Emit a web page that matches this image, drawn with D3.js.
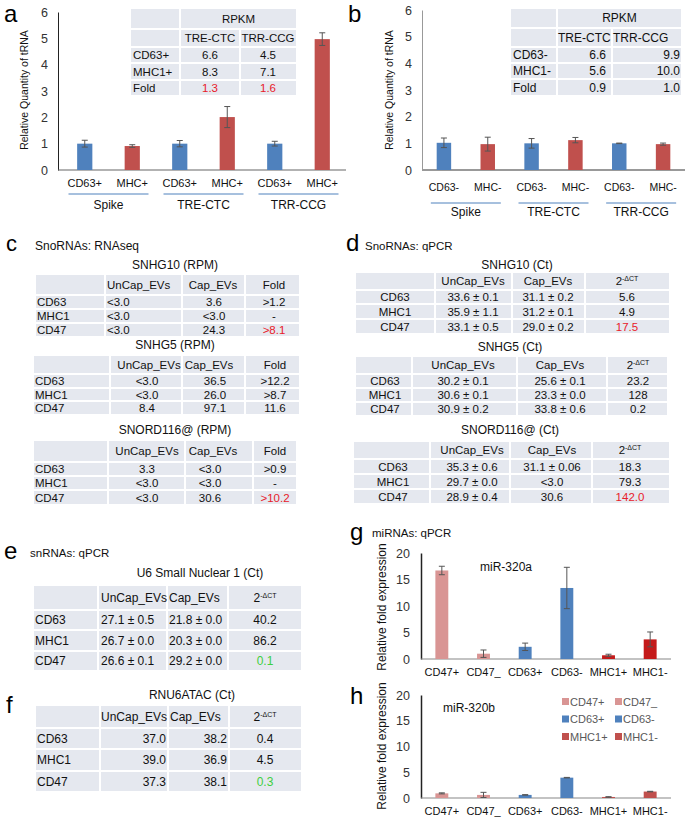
<!DOCTYPE html>
<html>
<head>
<meta charset="utf-8">
<script src="https://cdn.jsdelivr.net/npm/d3@7"></script>
<style>
body { margin: 0; background: #fff; }
svg { font-family: "Liberation Sans", Arial, sans-serif; }
</style>
</head>
<body>
<svg id="fig" width="685" height="820"></svg>
<script>
// ---- panel a / b : tRNA bars
var aCats = ["CD63+", "MHC+", "CD63+", "MHC+", "CD63+", "MHC+"];
var bCats = ["CD63-", "MHC-", "CD63-", "MHC-", "CD63-", "MHC-"];
var groups = ["Spike", "TRE-CTC", "TRR-CCG"];
var aVals = [1.0, 0.91, 1.0, 2.01, 1.0, 4.97];
var aErr = [0.13, 0.05, 0.12, 0.4, 0.09, 0.24];
var bVals = [1.02, 0.97, 1.0, 1.12, 1.0, 0.97];
var bErr = [0.18, 0.26, 0.18, 0.1, 0.01, 0.04];
var yTicksAB = [0, 1, 2, 3, 4, 5, 6];

// inset tables (RPKM)
var rpkmCols = ["TRE-CTC", "TRR-CCG"];
var aTabRows = ["CD63+", "MHC1+", "Fold"];
var aTabVals = [["6.6", "4.5"], ["8.3", "7.1"], ["1.3", "1.6"]];
var bTabRows = ["CD63-", "MHC1-", "Fold"];
var bTabVals = [["6.6", "9.9"], ["5.6", "10.0"], ["0.9", "1.0"]];

// ---- panel c : snoRNA RNAseq
var evCols = ["UnCap_EVs", "Cap_EVs"];
var evRows = ["CD63", "MHC1", "CD47"];
var c1Vals = [["<3.0", "3.6", ">1.2"], ["<3.0", "<3.0", "-"], ["<3.0", "24.3", ">8.1"]];
var c2Vals = [["<3.0", "36.5", ">12.2"], ["<3.0", "26.0", ">8.7"], ["8.4", "97.1", "11.6"]];
var c3Vals = [["3.3", "<3.0", ">0.9"], ["<3.0", "<3.0", "-"], ["<3.0", "30.6", ">10.2"]];

// ---- panel d : snoRNA qPCR
var d1Vals = [["33.6 ± 0.1", "31.1 ± 0.2", "5.6"], ["35.9 ± 1.1", "31.2 ± 0.1", "4.9"], ["33.1 ± 0.5", "29.0 ± 0.2", "17.5"]];
var d2Vals = [["30.2 ± 0.1", "25.6 ± 0.1", "23.2"], ["30.6 ± 0.1", "23.3 ± 0.0", "128"], ["30.9 ± 0.2", "33.8 ± 0.6", "0.2"]];
var d3Vals = [["35.3 ± 0.6", "31.1 ± 0.06", "18.3"], ["29.7 ± 0.0", "<3.0", "79.3"], ["28.9 ± 0.4", "30.6", "142.0"]];

// ---- panel e / f : snRNA qPCR
var eVals = [["27.1 ± 0.5", "21.8 ± 0.0", "40.2"], ["26.7 ± 0.0", "20.3 ± 0.0", "86.2"], ["26.6 ± 0.1", "29.2 ± 0.0", "0.1"]];
var fVals = [["37.0", "38.2", "0.4"], ["39.0", "36.9", "4.5"], ["37.3", "38.1", "0.3"]];

// ---- panel g / h : miRNA qPCR
var mirCats = ["CD47+", "CD47_", "CD63+", "CD63-", "MHC1+", "MHC1-"];
var gVals = [16.7, 1.0, 2.3, 13.4, 0.7, 3.7];
var gErr = [0.8, 0.7, 0.7, 3.9, 0.2, 1.4];
var hVals = [0.9, 0.6, 0.6, 3.95, 0.2, 1.25];
var hErr = [0.1, 0.5, 0.05, 0.05, 0.05, 0.05];
var yTicksGH = [0, 5, 10, 15, 20];

var BLUE = "#4f81bd", RED = "#c0504d", PINK = "#d99594", DRED = "#c41a1a";
var HIRED = "#e8202a", HIGREEN = "#3fcf3f";
var CELL = "#e5e8ef";
var DCT = "2-ΔCT";

var svg = d3.select("#fig");

function label(x, y, t, size) {
    svg.append("text").attr("x", x).attr("y", y).attr("font-size", size || 24)
        .attr("fill", "#000").text(t);
}
function note(x, y, t, anchor, size) {
    return svg.append("text").attr("x", x).attr("y", y).attr("font-size", size || 12)
        .attr("text-anchor", anchor || "start").attr("fill", "#111").text(t);
}

// generic table: cells[r][c], null = merged with left cell
function drawTable(spec) {
    var g = svg.append("g");
    spec.cells.forEach(function (row, r) {
        row.forEach(function (v, c) {
            if (v === null) return;
            var c2 = c + 1;
            while (c2 < row.length && row[c2] === null) c2++;
            var x0 = spec.xs[c], x1 = spec.xs[c2];
            var y0 = spec.ys[r], y1 = spec.ys[r + 1];
            g.append("rect").attr("x", x0 + 1).attr("y", y0 + 1)
                .attr("width", x1 - x0 - 2).attr("height", y1 - y0 - 2)
                .attr("fill", CELL);
            if (v === "") return;
            var al = (r < spec.nHead ? spec.head : spec.body)[c];
            var tx = al[1], anchor = al[0];
            if (c2 - c > 1) { tx = (x0 + x1) / 2; anchor = "middle"; }
            var t = g.append("text").attr("x", tx).attr("y", (y0 + y1) / 2)
                .attr("dy", "0.36em").attr("font-size", spec.size || 11.5)
                .attr("text-anchor", anchor)
                .attr("fill", (spec.hi && spec.hi[r + "," + c]) || "#111");
            if (v === DCT) {
                t.append("tspan").text("2");
                t.append("tspan").attr("font-size", 7).attr("dy", -4).text("-ΔCT");
            } else {
                t.text(v);
            }
        });
    });
}

function evCells(vals, head) {
    var cells = [[""].concat(head)];
    evRows.forEach(function (r, i) { cells.push([r].concat(vals[i])); });
    return cells;
}
function rpkmCells(rows, vals) {
    var cells = [["", "RPKM", null], [""].concat(rpkmCols)];
    rows.forEach(function (r, i) { cells.push([r].concat(vals[i])); });
    return cells;
}

// bar chart with error bars
function barChart(o) {
    var x = d3.scaleBand().domain(d3.range(o.cats.length)).range(o.xr)
        .paddingInner(o.pad).paddingOuter(o.pad / 2);
    var y = d3.scaleLinear().domain([0, o.ymax]).range(o.yr);
    var g = svg.append("g");

    g.append("g").attr("transform", "translate(" + o.axisX + ",0)")
        .call(d3.axisLeft(y).tickValues(o.ticks).tickFormat(d3.format("d"))
            .tickSize(0).tickPadding(o.tp))
        .call(function (s) {
            s.select(".domain").attr("stroke", o.yAxisColor).attr("stroke-width", o.yAxisW);
            s.selectAll("text").attr("font-size", o.tickSize).attr("fill", "#333")
                .attr("font-family", "Liberation Sans, Arial, sans-serif");
        });

    g.append("line").attr("x1", o.axisX).attr("x2", o.xr[1])
        .attr("y1", y(0)).attr("y2", y(0))
        .attr("stroke", o.xAxisColor).attr("stroke-width", o.xAxisW);

    g.append("g").attr("transform", "translate(0," + y(0) + ")")
        .call(d3.axisBottom(x).tickSize(0).tickPadding(o.lp).tickFormat(function (i) { return o.cats[i]; }))
        .call(function (s) {
            s.select(".domain").remove();
            s.selectAll("text").attr("font-size", o.labSize).attr("fill", "#111")
                .attr("font-family", "Liberation Sans, Arial, sans-serif");
        });

    g.selectAll("rect.bar").data(o.vals).enter().append("rect")
        .attr("class", "bar")
        .attr("x", function (d, i) { return x(i); })
        .attr("y", function (d) { return y(d); })
        .attr("width", x.bandwidth())
        .attr("height", function (d) { return y(0) - y(d); })
        .attr("fill", function (d, i) { return o.colors[i]; });

    var eb = g.selectAll("g.err").data(o.vals).enter().append("g").attr("class", "err")
        .attr("stroke", "#555").attr("stroke-width", 1);
    eb.each(function (d, i) {
        var cx = x(i) + x.bandwidth() / 2, e = o.err[i], s = d3.select(this);
        s.append("line").attr("x1", cx).attr("x2", cx).attr("y1", y(d - e)).attr("y2", y(d + e));
        s.append("line").attr("x1", cx - 3).attr("x2", cx + 3).attr("y1", y(d + e)).attr("y2", y(d + e));
        s.append("line").attr("x1", cx - 3).attr("x2", cx + 3).attr("y1", y(d - e)).attr("y2", y(d - e));
    });

    if (o.ylab) {
        svg.append("text")
            .attr("transform", "translate(" + o.ylab[0] + "," + o.ylab[1] + ") rotate(-90)")
            .attr("text-anchor", "middle").attr("font-size", o.ylab[2]).attr("fill", "#111")
            .text(o.ylab[3]);
    }
    if (o.groups) {
        o.groups.forEach(function (gname, k) {
            var mid = (x(2 * k) + x(2 * k + 1) + x.bandwidth()) / 2;
            svg.append("line").attr("x1", mid - o.ulw).attr("x2", mid + o.ulw)
                .attr("y1", o.ulY).attr("y2", o.ulY).attr("stroke", BLUE).attr("stroke-width", 1);
            svg.append("text").attr("x", mid).attr("y", o.gY).attr("text-anchor", "middle")
                .attr("font-size", 12).attr("fill", "#111").text(gname);
        });
    }
    return { x: x, y: y };
}

var abColors = aCats.map(function (d, i) { return i % 2 ? RED : BLUE; });

// ---------------- a
label(4, 22, "a");
barChart({
    cats: aCats, vals: aVals, err: aErr, colors: abColors, ymax: 6, ticks: yTicksAB,
    xr: [61, 346], yr: [170, 12], pad: 0.68, axisX: 58, tp: 10, tickSize: 12.5,
    yAxisColor: "#222", yAxisW: 1, xAxisColor: "#666", xAxisW: 1.2,
    lp: 9, labSize: 11, groups: groups, ulw: 40, ulY: 194, gY: 209,
    ylab: [28, 90, 10.5, "Relative Quantity of tRNA"]
});
drawTable({
    xs: [130, 180, 240, 297], ys: [8, 29, 47, 63, 80, 96], nHead: 2, size: 11.5,
    head: [["start", 133], ["middle", 210], ["middle", 268]],
    body: [["start", 133], ["middle", 210], ["middle", 268]],
    cells: rpkmCells(aTabRows, aTabVals),
    hi: { "4,1": HIRED, "4,2": HIRED }
});

// ---------------- b
label(348, 22, "b");
barChart({
    cats: bCats, vals: bVals, err: bErr, colors: abColors, ymax: 6, ticks: yTicksAB,
    xr: [422, 685], yr: [170, 10], pad: 0.67, axisX: 422, tp: 10, tickSize: 12.5,
    yAxisColor: "#999", yAxisW: 1, xAxisColor: "#999", xAxisW: 2,
    lp: 14, labSize: 10.5, groups: groups, ulw: 35, ulY: 203, gY: 216,
    ylab: [393, 90, 10.5, "Relative Quantity of tRNA"]
});
drawTable({
    xs: [510, 557, 612, 682], ys: [8, 28, 47, 63, 79, 96], nHead: 2, size: 12,
    head: [["start", 513], ["start", 558], ["start", 613]],
    body: [["start", 513], ["end", 606], ["end", 680]],
    cells: rpkmCells(bTabRows, bTabVals)
});

// ---------------- c
label(6, 251, "c", 22);
note(35, 250, "SnoRNAs: RNAseq");
note(175, 269, "SNHG10 (RPM)", "middle");
drawTable({
    xs: [35, 105, 182, 245, 300], ys: [274, 295, 309, 323, 337], nHead: 1,
    head: [["start", 37], ["start", 107], ["middle", 213], ["middle", 274]],
    body: [["start", 37], ["start", 107], ["middle", 214], ["middle", 274]],
    cells: evCells(c1Vals, evCols.concat(["Fold"])),
    hi: { "3,3": HIRED }
});
note(175, 349, "SNHG5 (RPM)", "middle");
drawTable({
    xs: [33, 110, 182, 245, 300], ys: [355, 374, 388, 401, 415], nHead: 1,
    head: [["start", 35], ["middle", 149], ["middle", 209], ["middle", 275]],
    body: [["start", 35], ["middle", 147], ["middle", 215], ["middle", 275]],
    cells: evCells(c2Vals, evCols.concat(["Fold"]))
});
note(175, 434, "SNORD116@ (RPM)", "middle");
drawTable({
    xs: [33, 108, 185, 253, 297], ys: [440, 462, 476, 490, 505], nHead: 1,
    head: [["start", 35], ["middle", 147], ["middle", 213], ["middle", 275]],
    body: [["start", 35], ["middle", 147], ["middle", 210], ["middle", 275]],
    cells: evCells(c3Vals, evCols.concat(["Fold"])),
    hi: { "3,3": HIRED }
});

// ---------------- d
label(346, 251, "d", 24);
note(365, 250, "SnoRNAs: qPCR", "start", 11.5);
note(517, 269, "SNHG10 (Ct)", "middle");
drawTable({
    xs: [355, 435, 512, 585, 670], ys: [272, 290, 304, 319, 334], nHead: 1,
    head: [["middle", 395], ["middle", 473], ["middle", 548], ["middle", 627]],
    body: [["middle", 395], ["middle", 473], ["middle", 548], ["middle", 627]],
    cells: evCells(d1Vals, evCols.concat([DCT])),
    hi: { "3,3": HIRED }
});
note(510, 351, "SNHG5 (Ct)", "middle");
drawTable({
    xs: [355, 412, 517, 607, 668], ys: [356, 374, 388, 402, 416], nHead: 1,
    head: [["middle", 385], ["middle", 463], ["middle", 560], ["middle", 638]],
    body: [["middle", 385], ["middle", 463], ["middle", 560], ["middle", 638]],
    cells: evCells(d2Vals, evCols.concat([DCT]))
});
note(510, 434, "SNORD116@ (Ct)", "middle");
drawTable({
    xs: [353, 430, 510, 592, 670], ys: [441, 459, 474, 489, 504], nHead: 1,
    head: [["middle", 393], ["middle", 472], ["middle", 552], ["middle", 630]],
    body: [["middle", 393], ["middle", 472], ["middle", 552], ["middle", 630]],
    cells: evCells(d3Vals, evCols.concat([DCT])),
    hi: { "3,3": HIRED }
});

// ---------------- e
label(4, 559, "e", 24);
note(30, 557, "snRNAs: qPCR", "start", 11.5);
note(200, 577, "U6 Small Nuclear 1 (Ct)", "middle");
drawTable({
    xs: [33, 98, 167, 228, 302], ys: [585, 610, 630, 651, 671], nHead: 1, size: 12,
    head: [["start", 35], ["start", 101], ["start", 169], ["middle", 265]],
    body: [["start", 35], ["start", 101], ["start", 169], ["middle", 265]],
    cells: evCells(eVals, evCols.concat([DCT])),
    hi: { "3,3": HIGREEN }
});

// ---------------- f
label(6, 713, "f", 24);
note(192, 699, "RNU6ATAC (Ct)", "middle");
drawTable({
    xs: [35, 100, 168, 229, 302], ys: [705, 728, 749, 771, 792], nHead: 1, size: 12,
    head: [["start", 37], ["start", 101], ["start", 170], ["middle", 265]],
    body: [["start", 37], ["end", 166], ["end", 227], ["middle", 265]],
    cells: evCells(fVals, evCols.concat([DCT])),
    hi: { "3,3": HIGREEN }
});

// ---------------- g
label(350, 540, "g", 24);
note(372, 537, "miRNAs: qPCR", "start", 11.5);
barChart({
    cats: mirCats, vals: gVals, err: gErr,
    colors: [PINK, PINK, BLUE, BLUE, DRED, DRED], ymax: 20, ticks: yTicksGH,
    xr: [421, 671], yr: [659, 553], pad: 0.69, axisX: 421, tp: 11, tickSize: 12.5,
    yAxisColor: "#222", yAxisW: 1.5, xAxisColor: "#888", xAxisW: 1.2,
    lp: 9, labSize: 11,
    ylab: [386, 607, 12, "Relative fold expression"]
});
note(480, 571, "miR-320a");

// ---------------- h
label(350, 704, "h", 24);
barChart({
    cats: mirCats, vals: hVals, err: hErr,
    colors: [PINK, PINK, BLUE, BLUE, RED, RED], ymax: 20, ticks: yTicksGH,
    xr: [421, 671], yr: [798, 695], pad: 0.69, axisX: 421, tp: 11, tickSize: 12.5,
    yAxisColor: "#222", yAxisW: 1.5, xAxisColor: "#888", xAxisW: 1.2,
    lp: 9, labSize: 11,
    ylab: [386, 746, 12, "Relative fold expression"]
});
note(443, 712, "miR-320b");

var legColors = [PINK, PINK, BLUE, BLUE, RED, RED];
var leg = svg.append("g");
mirCats.forEach(function (c, i) {
    var lx = i % 2 ? 615 : 562, ly = 702 + Math.floor(i / 2) * 17.5;
    leg.append("rect").attr("x", lx).attr("y", ly - 4).attr("width", 7).attr("height", 7)
        .attr("fill", legColors[i]);
    leg.append("text").attr("x", lx + 8).attr("y", ly).attr("dy", "0.36em")
        .attr("font-size", 11).attr("fill", "#595959").text(c);
});
</script>
</body>
</html>
